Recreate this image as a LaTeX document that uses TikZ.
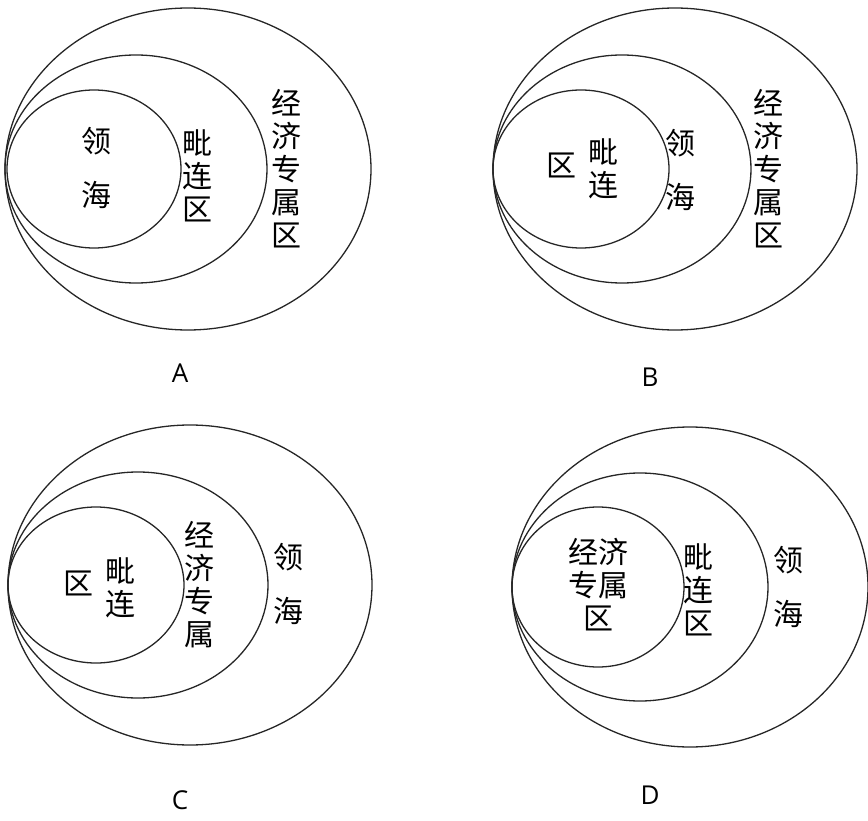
\documentclass[tikz,border=0pt]{standalone}
\usepackage{fontspec}
\newfontfamily\cjk{Noto Sans CJK SC}
\setsansfont{Open Sans}
\begin{document}
\begin{tikzpicture}[x=1pt,y=-1pt,
  ring/.style={draw=black!85,line width=1.3pt},
  zh/.style={inner sep=0pt,align=center,font=\cjk\fontsize{30}{33}\selectfont},
  zhwide/.style={inner sep=0pt,align=center,font=\cjk\fontsize{30}{54}\selectfont},
  letterlbl/.style={inner sep=0pt,font=\sffamily\fontsize{26}{28}\selectfont}]
\useasboundingbox (0,0) rectangle (868,821);
% Panel A
\draw[ring] (188,169) ellipse [x radius=183pt,y radius=161pt];
\draw[ring] (136,169) ellipse [x radius=131pt,y radius=114pt];
\draw[ring] (94,169) ellipse [x radius=87pt,y radius=79pt];
\node[zhwide] (a1) at (96,168) {领\\海};
\node[zh] (a2) at (197,176) {毗\\连\\区};
\node[zh] (a3) at (286,169) {经\\济\\专\\属\\区};
\node[letterlbl] (la) at (180,373) {A};
% Panel B
\draw[ring] (675,169) ellipse [x radius=182pt,y radius=161pt];
\draw[ring] (622,169) ellipse [x radius=129pt,y radius=114pt];
\draw[ring] (581,169) ellipse [x radius=88pt,y radius=79pt];
\node[zh] (b0) at (561,165) {区};
\node[zh] (b1) at (603,169) {毗\\连};
\node[zhwide] (b2) at (680,170) {领\\海};
\node[zh] (b3) at (768,169) {经\\济\\专\\属\\区};
\node[letterlbl] (lb) at (650,377) {B};
% Panel C
\draw[ring] (190,585) ellipse [x radius=182pt,y radius=160pt];
\draw[ring] (138,585) ellipse [x radius=130pt,y radius=113pt];
\draw[ring] (96,585) ellipse [x radius=88pt,y radius=78pt];
\node[zh] (c0) at (78,583) {区};
\node[zh] (c1) at (120,588) {毗\\连};
\node[zh] (c2) at (199,585) {经\\济\\专\\属};
\node[zhwide] (c3) at (288,584) {领\\海};
\node[letterlbl] (lc) at (180,800) {C};
% Panel D
\draw[ring] (690,587) ellipse [x radius=178pt,y radius=160pt];
\draw[ring] (640,587) ellipse [x radius=128pt,y radius=114pt];
\draw[ring] (598,587) ellipse [x radius=86pt,y radius=80pt];
\node[zh] (d1) at (598,585) {经济\\专属\\区};
\node[zh] (d2) at (698,590) {毗\\连\\区};
\node[zhwide] (d3) at (788,587) {领\\海};
\node[letterlbl] (ld) at (650,795) {D};
\end{tikzpicture}
\end{document}
